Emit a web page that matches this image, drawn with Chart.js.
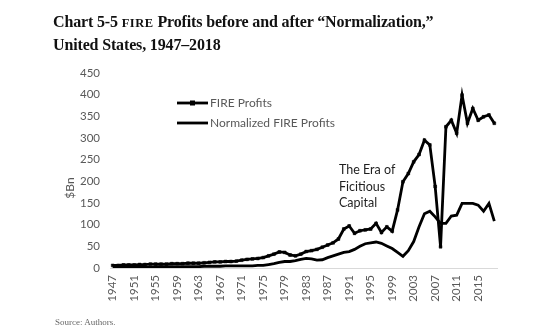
<!DOCTYPE html>
<html><head><meta charset="utf-8">
<script src="https://cdn.jsdelivr.net/npm/chart.js@4.4.0/dist/chart.umd.min.js"></script>
<style>
html,body{margin:0;padding:0;background:#fff;width:559px;height:329px;overflow:hidden;}
#wrap{position:absolute;left:0;top:0;width:559px;height:329px;}
#title{position:absolute;left:53px;top:11px;font-family:"Liberation Serif",serif;font-weight:bold;font-size:16px;line-height:21px;letter-spacing:-0.15px;color:#111;white-space:nowrap;}
.sc{font-size:12.5px;letter-spacing:0.5px;}
#source{position:absolute;left:55px;top:317px;font-family:"Liberation Serif",serif;font-size:9px;color:#666;}
</style></head><body>
<div id="wrap"><canvas id="c" width="559" height="329"></canvas></div>
<div id="title">Chart 5-5 <span class="sc">FIRE</span> Profits before and after “Normalization,”<br>United States, 1947–2018</div>
<div id="source">Source: Authors.</div>
<script>
const years = ['1947','1948','1949','1950','1951','1952','1953','1954','1955','1956','1957','1958','1959',
'1960','1961','1962','1963','1964','1965','1966','1967','1968','1969',
'1970','1971','1972','1973','1974','1975','1976','1977','1978','1979',
'1980','1981','1982','1983','1984','1985','1986','1987','1988','1989',
'1990','1991','1992','1993','1994','1995','1996','1997','1998','1999',
'2000','2001','2002','2003','2004','2005','2006','2007','2008','2009',
'2010','2011','2012','2013','2014','2015','2016','2017','2018'];

const fireProfits = [6,6,7,7,7,8,8,9,9,9,9,10,10,10,11,11,11,12,13,14,14,15,15,
16,18,20,21,22,24,28,32,37,36,
30,28,32,38,40,43,48,53,58,67,
90,97,80,86,88,90,103,82,95,85,
134,199,218,245,262,295,284,188,49,326,
341,311,399,334,368,341,349,353,334];

const normalizedProfits = [2,2,2,2,2,2,2,2,3,3,3,3,3,3,3,3,3,4,4,4,4,5,5,
5,5,5,5,6,6,8,10,13,15,
15,17,20,22,21,18,19,24,28,32,
36,38,43,50,56,58,60,57,51,45,
36,27,40,61,95,125,131,118,103,103,
120,122,149,149,149,145,131,149,108];

const yTicks = [0,50,100,150,200,250,300,350,400,450];
const seriesNames = ['FIRE Profits','Normalized FIRE Profits'];
const annotationLines = ['The Era of','Ficitious','Capital'];
const axisTitle = '$Bn';

const overlay = {
  id:'overlay',
  afterDraw(chart){
    const ctx = chart.ctx, a = chart.chartArea;
    ctx.save();
    ctx.fillStyle = '#595959';
    ctx.font = '12px Lato';
    ctx.textAlign = 'center';
    ctx.textBaseline = 'middle';
    ctx.translate(a.left - 40, a.top + 115);
    ctx.rotate(-Math.PI/2);
    ctx.fillText(axisTitle, 0, 0);
    ctx.restore();

    ctx.save();
    chart.data.datasets.forEach((ds, i) => {
      const y = a.top + 30 + i*20;
      const x0 = a.left + 67, x1 = a.left + 98;
      ctx.strokeStyle = ds.borderColor;
      ctx.lineWidth = ds.borderWidth;
      ctx.beginPath(); ctx.moveTo(x0, y); ctx.lineTo(x1, y); ctx.stroke();
      if (ds.pointRadius > 0) {
        ctx.fillStyle = '#000';
        ctx.fillRect((x0+x1)/2 - 2.5, y - 2.5, 5, 5);
      }
      ctx.fillStyle = '#595959';
      ctx.font = '12px Lato';
      ctx.textAlign = 'left';
      ctx.textBaseline = 'middle';
      ctx.fillText(ds.label, x1 + 2, y);
    });
    ctx.fillStyle = '#1f1f1f';
    ctx.font = '12.5px Lato';
    annotationLines.forEach((t, i) => {
      ctx.fillText(t, a.left + 229, a.top + 97 + i*16.5);
    });
    ctx.restore();
  }
};

new Chart(document.getElementById('c'), {
  type:'line',
  data:{
    labels: years,
    datasets:[
      {label:seriesNames[0], data:fireProfits, borderColor:'#000', backgroundColor:'#000',
       borderWidth:2.8, pointStyle:'rect', pointRadius:2, pointBorderWidth:0.5, tension:0},
      {label:seriesNames[1], data:normalizedProfits, borderColor:'#000', backgroundColor:'#000',
       borderWidth:2.8, pointRadius:0, tension:0}
    ]
  },
  options:{
    responsive:false, animation:false, devicePixelRatio:1,
    layout:{padding:{left:70, right:62, top:73, bottom:21}},
    plugins:{legend:{display:false}, tooltip:{enabled:false}, title:{display:false}},
    scales:{
      x:{
        offset:true,
        grid:{display:false, drawTicks:false},
        border:{display:true, color:'#d9d9d9', width:1},
        ticks:{autoSkip:false, maxRotation:90, minRotation:90, padding:7, color:'#595959',
          font:{family:'Lato', size:11.5},
          callback:(v,i)=> (i%4===0 ? years[i] : '')},
        afterFit:s=>{s.height=40;}
      },
      y:{
        min:0, max:450,
        afterBuildTicks:s=>{s.ticks = yTicks.map(v=>({value:v}));},
        grid:{display:false, drawTicks:false},
        border:{display:false},
        ticks:{padding:10, color:'#595959', font:{family:'Lato', size:11.5}},
        afterFit:s=>{s.width=40;}
      }
    }
  },
  plugins:[overlay]
});
</script>
</body></html>
